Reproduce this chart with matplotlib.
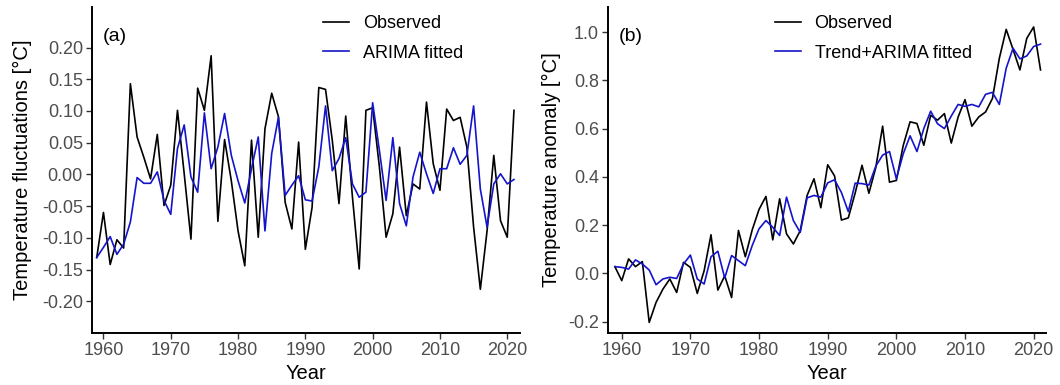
import matplotlib
matplotlib.use("Agg")
import matplotlib.pyplot as plt
import numpy as np

years = np.arange(1959, 2022)

# panel (a): detrended fluctuations
fluct_obs = [
    -0.131, -0.060, -0.142, -0.103, -0.116, 0.143, 0.059, 0.027, -0.007, 0.063,
    -0.049, -0.017, 0.101, 0.001, -0.102, 0.136, 0.101, 0.187, -0.074, 0.055,
    -0.010, -0.089, -0.144, 0.054, -0.099, 0.072, 0.128, 0.091, -0.044, -0.086,
    0.051, -0.118, -0.052, 0.137, 0.134, 0.054, -0.046, 0.092, -0.036, -0.149,
    0.101, 0.105, 0.012, -0.099, -0.062, 0.043, -0.065, -0.015, -0.023, 0.114,
    0.017, -0.025, 0.103, 0.085, 0.090, 0.043, -0.083, -0.181, -0.089, 0.030,
    -0.073, -0.099, 0.101,
]
fluct_fit = [
    -0.131, -0.115, -0.098, -0.126, -0.110, -0.075, -0.005, -0.014, -0.014, 0.004,
    -0.041, -0.063, 0.041, 0.078, -0.004, -0.028, 0.097, 0.009, 0.043, 0.096,
    0.030, -0.010, -0.045, 0.009, 0.059, -0.089, 0.033, 0.090, -0.033, -0.017,
    -0.002, -0.040, -0.042, 0.012, 0.108, 0.006, 0.025, 0.058, -0.015, -0.036,
    -0.028, 0.113, 0.038, -0.041, 0.058, -0.046, -0.081, -0.004, 0.035, 0.001,
    -0.030, 0.009, 0.009, 0.042, 0.016, 0.030, 0.108, -0.023, -0.083, -0.015,
    0.001, -0.015, -0.008,
]

# panel (b): temperature anomaly
anom_obs = [
    0.028, -0.030, 0.060, 0.028, 0.049, -0.203, -0.120, -0.065, -0.023, -0.079,
    0.046, 0.025, -0.083, 0.011, 0.160, -0.069, -0.010, -0.100, 0.178, 0.069,
    0.180, 0.265, 0.319, 0.139, 0.309, 0.164, 0.122, 0.177, 0.323, 0.392,
    0.272, 0.450, 0.404, 0.221, 0.230, 0.333, 0.448, 0.332, 0.438, 0.610,
    0.378, 0.385, 0.530, 0.628, 0.621, 0.531, 0.655, 0.635, 0.662, 0.540,
    0.648, 0.720, 0.610, 0.648, 0.669, 0.725, 0.891, 1.011, 0.928, 0.843,
    0.974, 1.021, 0.843,
]
anom_fit = [
    0.028, 0.025, 0.018, 0.056, 0.039, 0.014, -0.047, -0.023, -0.016, -0.021,
    0.039, 0.076, -0.023, -0.044, 0.069, 0.092, -0.019, 0.074, 0.053, 0.032,
    0.115, 0.185, 0.219, 0.191, 0.157, 0.316, 0.219, 0.170, 0.313, 0.323,
    0.316, 0.375, 0.388, 0.335, 0.256, 0.374, 0.372, 0.366, 0.444, 0.490,
    0.505, 0.392, 0.495, 0.570, 0.505, 0.600, 0.672, 0.620, 0.600, 0.652,
    0.700, 0.692, 0.700, 0.690, 0.742, 0.750, 0.700, 0.850, 0.933, 0.889,
    0.901, 0.940, 0.950,
]

ticks_a = [-0.20, -0.15, -0.10, -0.05, 0.00, 0.05, 0.10, 0.15, 0.20]
ticks_b = [-0.2, 0.0, 0.2, 0.4, 0.6, 0.8, 1.0]

plt.rcParams["font.family"] = ["Liberation Sans", "DejaVu Sans"]
plt.rcParams["axes.unicode_minus"] = False

fig = plt.figure(figsize=(10.6, 3.85), dpi=100)
ax1 = fig.add_axes([0.0868, 0.135, 0.4038, 0.847])
ax2 = fig.add_axes([0.5736, 0.135, 0.4132, 0.847])

blue = "#1414CC"


def style(ax):
    for s in ["top", "right"]:
        ax.spines[s].set_visible(False)
    for s in ["left", "bottom"]:
        ax.spines[s].set_linewidth(1.4)
        ax.spines[s].set_color("black")
    ax.tick_params(axis="both", direction="out", length=4, width=1.0,
                   color="#333333", labelsize=13, labelcolor="#4D4D4D", pad=2.5)
    ax.set_xticks(np.arange(1960, 2021, 10))
    ax.set_xlabel("Year", fontsize=14.5, labelpad=3.5)


def legend(ax, x):
    ax.legend(loc="upper left", bbox_to_anchor=(x, 0.975), frameon=False,
              fontsize=13, handlelength=1.45, handletextpad=0.75,
              labelspacing=0.7, borderpad=0, borderaxespad=0)


# (a)
ax1.plot(years, fluct_obs, color="black", lw=1.2, label="Observed")
ax1.plot(years, fluct_fit, color=blue, lw=1.2, label="ARIMA fitted")
style(ax1)
ax1.set_xlim(1958.3, 2021.9)
ax1.set_ylim(-0.25, 0.264)
ax1.set_yticks(ticks_a)
ax1.set_yticklabels([f"{v:.2f}" for v in ticks_a])
ax1.set_ylabel("Temperature fluctuations [°C]", fontsize=14.5, labelpad=7)
ax1.text(0.025, 0.895, "(a)", transform=ax1.transAxes, fontsize=14)
legend(ax1, 0.54)

# (b)
ax2.plot(years, anom_obs, color="black", lw=1.2, label="Observed")
ax2.plot(years, anom_fit, color=blue, lw=1.2, label="Trend+ARIMA fitted")
style(ax2)
ax2.set_xlim(1958.0, 2021.8)
ax2.set_ylim(-0.247, 1.104)
ax2.set_yticks(ticks_b)
ax2.set_yticklabels([f"{v:.1f}" for v in ticks_b])
ax2.set_ylabel("Temperature anomaly [°C]", fontsize=14.5, labelpad=5)
ax2.text(0.025, 0.895, "(b)", transform=ax2.transAxes, fontsize=14)
legend(ax2, 0.381)

fig.savefig("out.png", dpi=100)
